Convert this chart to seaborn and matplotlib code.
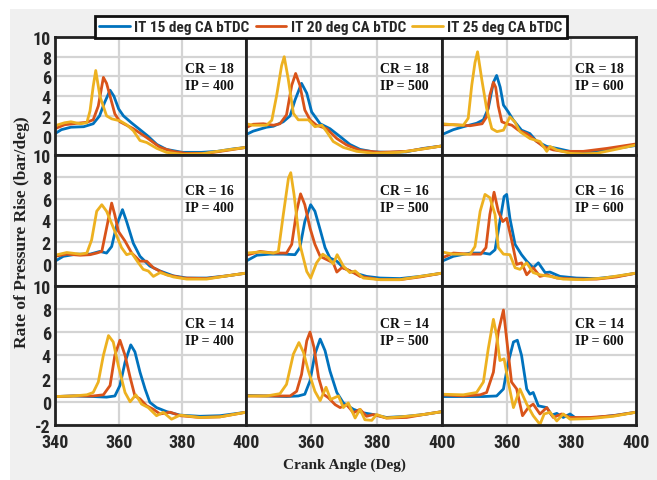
import numpy as np
import pandas as pd
import matplotlib
matplotlib.use("Agg")
import matplotlib.pyplot as plt
from matplotlib.patches import Rectangle
import seaborn as sns

# ---------------- data ----------------
series_names = ["IT 15 deg CA bTDC", "IT 20 deg CA bTDC", "IT 25 deg CA bTDC"]
series_colors = ["#0072BD", "#D95319", "#EDB120"]
cr_rows = [18, 16, 14]
ip_cols = [400, 500, 600]
x_ticks = [340, 360, 380, 400]
y_ticks = [-2, 0, 2, 4, 6, 8, 10]

# CR 18, IP 400
x_cr18_ip400_it15 = [340, 342, 345, 349, 352, 354, 355.5, 357.3, 358.5, 360, 361.5, 364, 366.7, 369, 372, 375, 380, 386, 391, 396, 400]
y_cr18_ip400_it15 = [0.2, 0.6, 0.85, 0.9, 1.2, 2.0, 3.3, 4.6, 4.0, 2.7, 2.0, 1.3, 0.6, 0.0, -0.9, -1.4, -1.7, -1.7, -1.6, -1.35, -1.2]
x_cr18_ip400_it20 = [340, 343, 347, 350, 352, 353.6, 355.2, 356.2, 357.3, 358.8, 360.4, 364.6, 368.8, 373, 377, 381, 387.6, 394, 400]
y_cr18_ip400_it20 = [0.7, 1.1, 1.25, 1.35, 1.6, 3.0, 5.9, 5.3, 4.0, 2.2, 1.4, 0.7, -0.2, -1.2, -1.6, -1.8, -1.8, -1.5, -1.2]
x_cr18_ip400_it25 = [340, 343, 345, 348, 350, 351, 352, 352.8, 354.1, 356.2, 357.8, 360.4, 362.5, 364.6, 366.7, 368.8, 372, 375, 380, 386, 393, 400]
y_cr18_ip400_it25 = [1.0, 1.3, 1.4, 1.2, 1.3, 2.5, 5.0, 6.6, 4.0, 2.0, 1.7, 1.5, 1.1, 0.5, -0.5, -0.7, -1.3, -1.7, -1.9, -1.85, -1.5, -1.2]

# CR 18, IP 500
x_cr18_ip500_it15 = [340, 342.2, 346.3, 348.4, 351.4, 353.5, 355, 357, 358.6, 360.1, 362.7, 365.7, 368.8, 371.8, 374.9, 379, 384, 389, 394.3, 400]
y_cr18_ip500_it15 = [0.1, 0.45, 0.85, 0.95, 1.4, 2.0, 3.6, 5.3, 4.3, 2.4, 1.2, 0.7, -0.1, -0.9, -1.4, -1.65, -1.7, -1.65, -1.3, -1.05]
x_cr18_ip500_it20 = [340, 342.2, 345.3, 348.4, 350.4, 352.4, 354, 355.2, 356.5, 358, 359.6, 361.6, 364.7, 367.8, 370.8, 374.9, 381, 389, 400]
y_cr18_ip500_it20 = [0.8, 1.15, 1.2, 1.05, 1.2, 2.1, 5.1, 6.3, 5.1, 2.6, 1.6, 1.05, 0.7, -0.3, -0.95, -1.5, -1.7, -1.6, -1.05]
x_cr18_ip500_it25 = [340, 342.2, 346.3, 347.9, 349.4, 350.9, 351.7, 352.9, 354.5, 356, 357.6, 359.1, 361.1, 363.2, 364.7, 366.7, 369.8, 373.9, 379, 387, 394.3, 400]
y_cr18_ip500_it25 = [1.2, 1.05, 1.05, 1.55, 4.1, 7.1, 8.0, 5.8, 2.25, 1.6, 1.6, 1.6, 0.9, 1.05, 0.4, -0.6, -1.2, -1.6, -1.8, -1.7, -1.35, -1.05]

# CR 18, IP 600
x_cr18_ip600_it15 = [340, 343.5, 346.6, 350.7, 352.8, 354.3, 355.9, 356.9, 358, 359, 360.5, 362, 364.6, 367.2, 369.3, 372.4, 375.5, 379.6, 383.7, 387.8, 393, 400]
y_cr18_ip600_it15 = [0.1, 0.6, 0.9, 1.25, 1.6, 2.75, 5.4, 6.1, 4.9, 3.1, 2.4, 1.6, 0.55, 0.2, -0.6, -1.1, -1.3, -1.6, -1.8, -1.6, -1.35, -1.0]
x_cr18_ip600_it20 = [340, 343.5, 348.7, 352.4, 353.8, 354.8, 355.9, 356.6, 357.4, 358.5, 360, 361.6, 363.6, 366.2, 369.3, 371.3, 374.4, 377.5, 383.7, 391, 400]
y_cr18_ip600_it20 = [1.1, 1.1, 1.0, 1.2, 1.9, 4.1, 5.4, 4.9, 3.0, 1.4, 1.2, 1.05, 0.55, 0.2, -0.6, -1.1, -1.45, -1.6, -1.6, -1.3, -0.85]
x_cr18_ip600_it25 = [340, 343.5, 346.6, 348.1, 349.2, 350.2, 351, 352.3, 353.8, 355.4, 357, 359, 361, 362.5, 364.1, 367.2, 370.3, 372.4, 373.4, 375.5, 379.6, 383.7, 387.8, 393, 400]
y_cr18_ip600_it25 = [1.2, 1.1, 1.05, 1.75, 5.1, 7.4, 8.5, 5.7, 2.75, 0.7, 0.4, 0.55, 1.9, 1.4, 0.4, -0.3, -0.6, -1.6, -1.1, -1.45, -1.8, -1.85, -1.8, -1.45, -0.95]

# CR 16, IP 400
x_cr16_ip400_it15 = [340, 342.6, 346.8, 351, 354.1, 356.2, 357.8, 359.4, 361.2, 362.5, 364.6, 366.7, 369.8, 373, 377.2, 381.4, 387.6, 394, 400]
y_cr16_ip400_it15 = [0.25, 0.7, 0.9, 0.9, 1.15, 1.0, 1.6, 3.6, 5.0, 3.9, 1.9, 0.7, -0.2, -0.65, -1.1, -1.3, -1.3, -1.1, -0.85]
x_cr16_ip400_it20 = [340, 343.7, 347.9, 351, 353.1, 354.7, 356.2, 357.8, 358.8, 359.9, 362, 364.1, 366.7, 368.8, 370.9, 375.1, 380.3, 387.6, 394, 400]
y_cr16_ip400_it20 = [0.7, 0.9, 0.8, 0.85, 1.0, 1.15, 3.3, 5.6, 4.5, 3.0, 2.1, 1.0, 0.25, 0.25, -0.35, -1.0, -1.3, -1.35, -1.1, -0.85]
x_cr16_ip400_it25 = [340, 343.7, 347.9, 350, 351.5, 353.1, 354.7, 356.2, 358.8, 360.9, 362.5, 364.1, 366.2, 367.7, 369.3, 370.9, 373, 377.2, 381.4, 387.6, 394, 400]
y_cr16_ip400_it25 = [0.8, 1.05, 0.9, 1.0, 2.2, 4.85, 5.45, 4.85, 3.0, 1.5, 0.85, 1.0, 0.1, -0.5, -0.65, -1.15, -0.8, -1.2, -1.4, -1.4, -1.1, -0.85]

# CR 16, IP 500
x_cr16_ip500_it15 = [340, 343.3, 347.3, 351.4, 355, 356.5, 358, 359.8, 361.1, 362.7, 364.2, 365.7, 367.8, 369.8, 372.9, 376.9, 381, 387.1, 393.3, 400]
y_cr16_ip500_it15 = [0.25, 0.8, 0.9, 0.9, 0.85, 1.5, 3.9, 5.45, 4.85, 3.15, 1.5, 0.55, 0.25, -0.35, -0.8, -1.15, -1.3, -1.35, -1.15, -0.85]
x_cr16_ip500_it20 = [340, 344.3, 348.4, 352.4, 354, 355.5, 356.7, 358, 359.6, 361.1, 362.7, 364.7, 366.7, 367.8, 369.3, 370.8, 372.9, 374.9, 381, 387.1, 393.3, 400]
y_cr16_ip500_it20 = [0.8, 1.15, 1.0, 1.0, 1.8, 4.85, 6.45, 5.45, 3.3, 1.8, 0.7, 0.4, 0.1, -0.75, -0.35, -0.5, -0.8, -1.15, -1.45, -1.45, -1.2, -0.85]
x_cr16_ip500_it25 = [340, 344.3, 348.4, 349.9, 351.4, 353, 353.7, 354.7, 356.5, 358.6, 359.8, 361.6, 363.5, 365.2, 366.7, 367.9, 369.8, 371.8, 373.4, 375.9, 381, 387.1, 393.3, 400]
y_cr16_ip500_it25 = [1.0, 1.1, 1.0, 1.15, 4.5, 7.9, 8.4, 6.4, 1.8, -0.7, -1.3, 0.1, 0.9, 0.55, 0.0, 0.85, -0.2, -0.8, -0.65, -1.3, -1.45, -1.45, -1.15, -0.85]

# CR 16, IP 600
x_cr16_ip600_it15 = [340, 343.5, 348.7, 352.8, 354.8, 356.4, 357.9, 359.2, 360, 361, 362.6, 364.6, 366.2, 368.2, 369.8, 371.9, 373.4, 376.5, 381.6, 387.8, 394, 400]
y_cr16_ip600_it15 = [0.25, 0.7, 1.0, 1.0, 0.9, 1.3, 3.9, 6.2, 6.4, 4.2, 1.8, 0.85, 0.25, -0.35, 0.1, -0.8, -0.75, -1.15, -1.3, -1.35, -1.15, -0.85]
x_cr16_ip600_it20 = [340, 343.5, 348.7, 352, 353.6, 354.8, 356.1, 357.4, 358.8, 360, 361.6, 363.1, 364.6, 366.2, 368.2, 370.3, 372.4, 375.5, 381.6, 387.8, 394, 400]
y_cr16_ip600_it20 = [0.55, 1.0, 0.9, 0.9, 1.5, 4.55, 6.6, 4.85, 3.9, 4.2, 2.1, -0.05, 0.1, -1.0, -0.35, -1.15, -1.0, -1.3, -1.4, -1.4, -1.2, -0.85]
x_cr16_ip600_it25 = [340, 343.5, 348.7, 350.2, 351.8, 353.3, 354.8, 356.4, 357.4, 359, 361, 362.6, 364.1, 366.2, 368.2, 370.3, 373.4, 377.5, 383.7, 390, 400]
y_cr16_ip600_it25 = [1.1, 0.9, 0.9, 1.6, 4.85, 6.4, 6.1, 4.55, 1.5, 0.9, 0.85, -0.35, -0.5, 0.1, -0.8, -1.0, -1.15, -1.4, -1.45, -1.3, -0.85]

# CR 14, IP 400
x_cr14_ip400_it15 = [340, 345.8, 352, 356.2, 358.8, 360.4, 362, 363.8, 365.1, 366.7, 368.3, 369.8, 371.9, 375.1, 379.3, 385.5, 391.8, 396, 400]
y_cr14_ip400_it15 = [0.45, 0.5, 0.45, 0.4, 0.5, 1.4, 3.4, 4.9, 4.3, 2.55, 1.1, -0.05, -0.5, -0.85, -1.15, -1.25, -1.2, -1.05, -0.9]
x_cr14_ip400_it20 = [340, 345.8, 352, 355.2, 357.3, 358.8, 360.4, 362, 363.6, 365.1, 366.7, 368.8, 370.9, 373, 376.2, 379.3, 385.5, 391.8, 400]
y_cr14_ip400_it20 = [0.45, 0.5, 0.5, 0.6, 1.4, 4.0, 5.3, 4.0, 2.1, 0.5, 0.25, -0.35, -0.65, -1.05, -0.9, -1.2, -1.35, -1.3, -0.9]
x_cr14_ip400_it25 = [340, 345.8, 350, 352, 353.6, 355.2, 356.8, 358.3, 359.9, 362, 363.6, 365.4, 367.2, 369.3, 371.9, 374, 376.6, 379.3, 385.5, 391.8, 400]
y_cr14_ip400_it25 = [0.45, 0.5, 0.6, 0.8, 1.7, 4.0, 5.7, 5.15, 3.1, 0.8, 0.0, 0.6, -0.2, -0.5, -1.2, -0.9, -1.5, -1.15, -1.35, -1.3, -0.9]

# CR 14, IP 500
x_cr14_ip500_it15 = [340, 346.3, 352.4, 356, 358, 359.6, 361.1, 362.7, 364.2, 365.7, 367.8, 369.8, 372.9, 375.9, 379, 383, 389.2, 394.3, 400]
y_cr14_ip500_it15 = [0.55, 0.5, 0.45, 0.5, 0.65, 1.8, 4.1, 5.4, 4.4, 2.65, 0.8, -0.1, -0.65, -0.95, -1.1, -1.35, -1.25, -1.1, -0.85]
x_cr14_ip500_it20 = [340, 348.4, 353.5, 355.5, 357, 358.6, 359.6, 360.8, 362.2, 363.7, 365.2, 367.3, 368.8, 370.8, 372.9, 374.9, 376.9, 379, 383, 389.2, 394.3, 400]
y_cr14_ip500_it20 = [0.5, 0.5, 0.5, 0.9, 2.35, 5.25, 6.0, 4.7, 2.1, 0.65, 0.35, -0.25, -0.5, -0.25, -0.95, -0.65, -1.25, -1.1, -1.4, -1.35, -1.1, -0.85]
x_cr14_ip500_it25 = [340, 346.3, 350.4, 352.4, 354.5, 356.2, 357.6, 359.1, 361.1, 362.7, 364.5, 365.9, 368.3, 369.8, 371.3, 373.4, 374.9, 376.4, 378.5, 380, 383, 389.2, 394.3, 400]
y_cr14_ip500_it25 = [0.5, 0.5, 0.7, 1.5, 4.1, 5.1, 4.25, 2.65, 0.9, 0.1, 1.25, 0.2, 0.5, -0.5, -0.1, -1.4, -0.65, -1.55, -1.6, -1.1, -1.4, -1.25, -1.1, -0.85]

# CR 14, IP 600
x_cr14_ip600_it15 = [340, 346.6, 352.8, 356.9, 359, 360.5, 362.1, 363.3, 364.6, 366.2, 367.2, 368.2, 369.8, 372.4, 373.9, 375.5, 377.5, 379.6, 381.6, 387.8, 394, 400]
y_cr14_ip600_it15 = [0.45, 0.45, 0.45, 0.5, 1.1, 3.4, 5.15, 5.3, 4.0, 1.1, 0.65, 0.8, -0.35, -0.5, -1.15, -1.0, -1.35, -1.05, -1.45, -1.35, -1.15, -0.9]
x_cr14_ip600_it20 = [340, 346.6, 351.8, 353.8, 355.9, 357.4, 359, 360, 361.5, 363.1, 364.9, 366.7, 368.2, 370.3, 372.4, 374.4, 377, 379.6, 385.8, 393, 400]
y_cr14_ip600_it20 = [0.6, 0.5, 0.6, 0.8, 2.55, 6.0, 7.9, 5.4, 1.7, 1.1, -1.2, -0.5, -0.2, -1.05, -0.5, -1.35, -1.05, -1.35, -1.35, -1.2, -0.9]
x_cr14_ip600_it25 = [340, 346.6, 350.7, 352.8, 354.3, 355.9, 356.9, 357.9, 359.2, 360.5, 362.1, 364.1, 366.2, 368.2, 370.3, 371.6, 373.4, 375.5, 377.5, 379.6, 385.8, 393, 400]
y_cr14_ip600_it25 = [0.65, 0.6, 0.8, 1.7, 4.55, 7.1, 5.7, 3.55, 3.7, 1.7, -0.5, 1.1, -0.2, -1.2, -1.95, -1.05, -0.9, -1.65, -1.05, -1.5, -1.45, -1.25, -0.9]

# ---------------- build long table ----------------
_g = globals()
rows = []
for cr in cr_rows:
    for ip in ip_cols:
        for it, name in zip([15, 20, 25], series_names):
            xs = _g[f"x_cr{cr}_ip{ip}_it{it}"]
            ys = _g[f"y_cr{cr}_ip{ip}_it{it}"]
            for xv, yv in zip(xs, ys):
                rows.append((cr, ip, name, xv, yv))
df = pd.DataFrame(rows, columns=["CR", "IP", "series", "angle", "rate"])

# ---------------- style ----------------
sns.set_style("white")
sans = ["Roboto Condensed", "Liberation Sans Narrow", "Liberation Sans", "DejaVu Sans"]
serif = ["Liberation Serif", "DejaVu Serif"]
plt.rcParams["font.family"] = sans
plt.rcParams["font.weight"] = "bold"

W, H = 657, 481
fig = plt.figure(figsize=(W / 100, H / 100), dpi=100)
fig.patch.set_facecolor("white")
fig.add_artist(Rectangle((10 / W, 0), 1, 1 - 10 / H, transform=fig.transFigure,
                         facecolor="#f0f0f0", edgecolor="none", zorder=-10))

left, right = 55 / W, 636 / W
top, bottom = 1 - 38 / H, 1 - 426 / H
gs = fig.add_gridspec(3, 3, left=left, right=right, top=top, bottom=bottom,
                      wspace=0, hspace=0,
                      height_ratios=[118, 130, 139], width_ratios=[191, 196, 194])

palette = dict(zip(series_names, series_colors))
axes = []
for r, cr in enumerate(cr_rows):
    for c, ip in enumerate(ip_cols):
        ax = fig.add_subplot(gs[r, c])
        axes.append(ax)
        ax.set_facecolor("white")
        sub = df[(df.CR == cr) & (df.IP == ip)]
        sns.lineplot(data=sub, x="angle", y="rate", hue="series",
                     hue_order=series_names, palette=palette,
                     estimator=None, errorbar=None, sort=False,
                     linewidth=2.0, legend=False, ax=ax)
        ax.set_xlim(340, 400)
        ax.set_ylim(-2, 10)
        ax.set_xticks(x_ticks)
        ax.set_yticks(y_ticks)
        ax.grid(True, color="#d4d4d4", linewidth=1.6)
        ax.set_axisbelow(True)
        for sp in ax.spines.values():
            sp.set_linewidth(2.0)
            sp.set_color("#222222")
            sp.set_visible(True)
        ax.tick_params(direction="in", length=3, width=1, color="#222222",
                       labelsize=13, pad=3)
        ax.set_xlabel("")
        ax.set_ylabel("")
        if c == 0:
            ylabels = [str(v) for v in y_ticks]
            if r < 2:
                ylabels[0] = ""
            ax.set_yticklabels(ylabels)
        else:
            ax.tick_params(labelleft=False)
        if r == 2:
            xlabels = [str(v) for v in x_ticks]
            if c > 0:
                xlabels[0] = ""
            ax.set_xticklabels(xlabels)
            ax.tick_params(axis="x", pad=6)
        else:
            ax.tick_params(labelbottom=False)
        ax.text(0.81, 0.665, f"CR = {cr}\nIP = {ip}", transform=ax.transAxes,
                ha="center", va="center", family=serif, fontweight="bold",
                fontsize=10, linespacing=1.4, color="#111111")

handles = axes[0].get_lines()[:3]
leg = fig.legend(handles, series_names, ncol=3, loc="lower center",
                 bbox_to_anchor=(331 / W, top - 1 / H), frameon=True,
                 fancybox=False, edgecolor="#111111", framealpha=1,
                 fontsize=11, handlelength=2.0, handletextpad=0.3,
                 columnspacing=0.4, borderpad=0.25, borderaxespad=0)
leg.get_frame().set_linewidth(2.0)
for t in leg.get_texts():
    t.set_fontweight("bold")

fig.text(22 / W, (top + bottom) / 2, "Rate of Pressure Rise (bar/deg)",
         rotation=90, ha="center", va="center", family=serif,
         fontweight="bold", fontsize=12.5, color="#222222")
fig.text(344 / W, 1 - 465 / H, "Crank Angle (Deg)", ha="center", va="center",
         family=serif, fontweight="bold", fontsize=11, color="#222222")

fig.savefig("out.png", dpi=100, facecolor=fig.get_facecolor())
